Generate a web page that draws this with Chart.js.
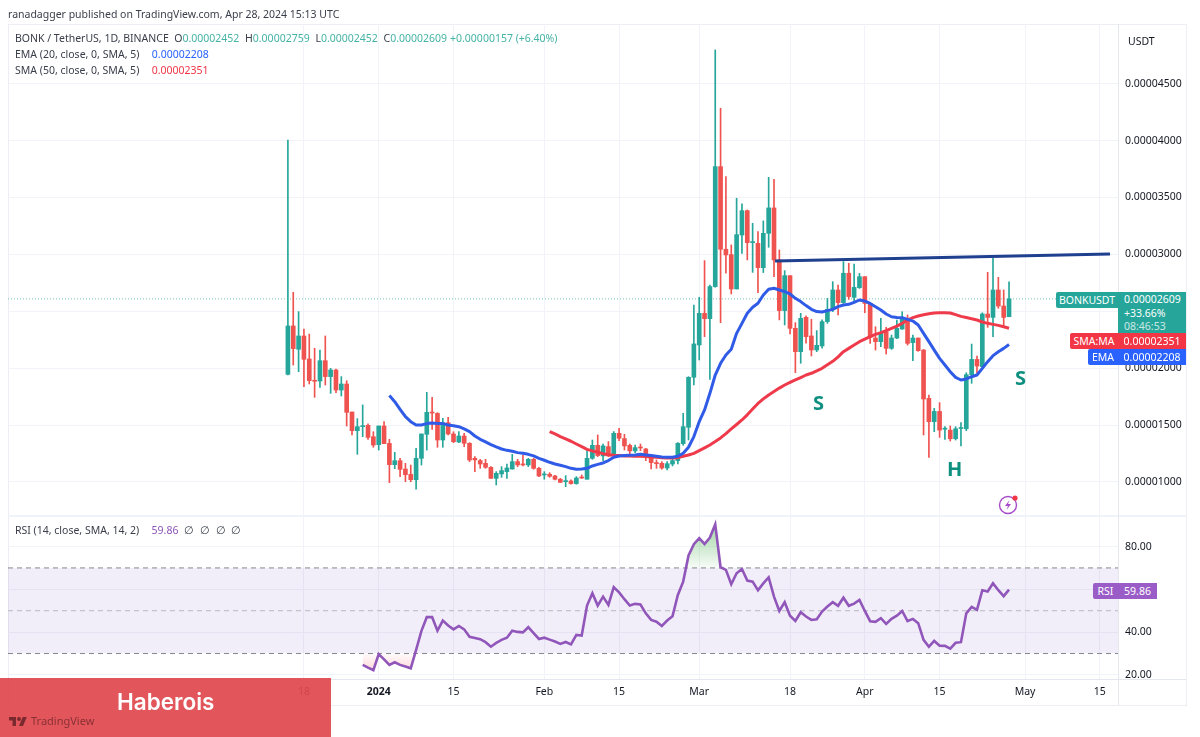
<!DOCTYPE html>
<html>
<head>
<meta charset="utf-8">
<title>BONK / TetherUS</title>
<script src="https://cdn.jsdelivr.net/npm/chart.js@4/dist/chart.umd.min.js"></script>
<style>
  html, body { margin: 0; padding: 0; background: #fff; }
  body { position: relative; width: 1200px; height: 737px; overflow: hidden; font-family: "Noto Sans", sans-serif; color: #131722; }
  canvas { position: absolute; left: 0; }
  .abs { position: absolute; white-space: nowrap; }
  .line { font-size: 10.5px; line-height: 16px; color: #3a3e4a; }
  .line span { margin-right: 3px; }
  .line .val { margin-left: 7px; }
  .tag { color: #fff; font-size: 10.5px; line-height: 16px; text-align: center; }
  .mark { color: #0f8f7f; font: bold 20px "Noto Sans", sans-serif; }
</style>
</head>
<body>
<!-- pane frame -->
<div class="abs" style="left:8px;top:24px;width:1177px;height:680px;border:1px solid #eceef3"></div>
<div class="abs" style="left:8px;top:515px;width:1178px;height:2px;background:#f0f3fa"></div>
<div class="abs" style="left:8px;top:679px;width:1178px;height:1px;background:#e4e7ee"></div>
<div class="abs" style="left:1118px;top:24px;width:1px;height:681px;background:#e4e7ee"></div>

<canvas id="price-chart" width="1200" height="517" style="top:0"></canvas>
<canvas id="rsi-chart" width="1200" height="220" style="top:517px"></canvas>

<div class="abs" style="left:8px;top:6px;font-size:10.5px;line-height:16px;color:#3a3e4a">ranadagger published on TradingView.com, Apr 28, 2024 15:13 UTC</div>

<div class="abs line" style="left:15px;top:30px">BONK / TetherUS, 1D, BINANCE&nbsp; O<span style="color:#45b3a5">0.00002452</span> H<span style="color:#45b3a5">0.00002759</span> L<span style="color:#45b3a5">0.00002452</span> C<span style="color:#45b3a5">0.00002609</span><span style="color:#45b3a5">+0.00000157 (+6.40%)</span></div>
<div class="abs line" style="left:15px;top:46px">EMA (20, close, 0, SMA, 5)&nbsp; <span class="val" style="color:#2962ff">0.00002208</span></div>
<div class="abs line" style="left:15px;top:62px">SMA (50, close, 0, SMA, 5)&nbsp; <span class="val" style="color:#f23645">0.00002351</span></div>
<div class="abs line" style="left:15px;top:522px">RSI (14, close, SMA, 14, 2)&nbsp; <span class="val" style="color:#8e55b8">59.86</span> <span>∅</span> <span>∅</span> <span>∅</span> <span>∅</span></div>

<div class="abs" style="left:1128px;top:33px;font-size:10.5px;line-height:16px">USDT</div>

<!-- last value tags -->
<div class="abs tag" style="left:1056px;top:292px;width:62px;height:16px;background:#26a69a;border-radius:2px 0 0 2px">BONKUSDT</div>
<div class="abs tag" style="left:1118px;top:292px;width:68px;height:41px;background:#26a69a;line-height:13.5px;padding-top:1px;box-sizing:border-box;text-align:left;padding-left:6px">0.00002609<br>+33.66%<br><span style="opacity:.75">08:46:53</span></div>
<div class="abs tag" style="left:1070px;top:333px;width:48px;height:16px;background:#f23645;border-radius:2px 0 0 2px">SMA:MA</div>
<div class="abs tag" style="left:1118px;top:333px;width:68px;height:16px;background:#f23645">0.00002351</div>
<div class="abs tag" style="left:1088px;top:349px;width:30px;height:16px;background:#2962ff;border-radius:2px 0 0 2px">EMA</div>
<div class="abs tag" style="left:1118px;top:349px;width:68px;height:16px;background:#2962ff">0.00002208</div>
<div class="abs tag" style="left:1093px;top:583px;width:25px;height:16px;background:#9a5cc6;border-radius:2px 0 0 2px">RSI</div>
<div class="abs tag" style="left:1118px;top:583px;width:39px;height:16px;background:#9a5cc6">59.86</div>

<!-- head and shoulders notes -->
<div class="abs mark" style="left:813px;top:389px">S</div>
<div class="abs mark" style="left:947px;top:455px">H</div>
<div class="abs mark" style="left:1015px;top:364px">S</div>

<svg class="abs" style="left:998px;top:494px" width="22" height="22" viewBox="0 0 22 22">
  <circle cx="10" cy="11" r="8.5" fill="none" stroke="#a64bc8" stroke-width="1.4"/>
  <path d="M11.5 6 L7 12 H10 L8.5 16 L13 10 H10 Z" fill="#a64bc8"/>
  <circle cx="17" cy="4" r="2.6" fill="#f23645"/>
</svg>

<!-- red banner -->
<div class="abs" style="left:0;top:678px;width:331px;height:59px;background:rgba(224,72,78,.93)"></div>
<div class="abs" style="left:117px;top:688px;color:#fff;font:600 22.5px Inter, sans-serif">Haberois</div>
<svg class="abs" style="left:9px;top:715px" width="18" height="14" viewBox="0 0 36 28"><path fill="#7a2a2f" d="M14 22H7V11H0V4h14v18zM28 22h-8l7.5-18h8L28 22z"/><circle fill="#7a2a2f" cx="20" cy="8" r="4"/></svg>
<div class="abs" style="left:31px;top:712px;color:#8a3135;font-size:11px;line-height:18px">TradingView</div>

<script>
// prices are in units of 0.00000001, one entry per day starting Dec 15 2023
const opens = [
  1946,2371,2166,2283,2081,1890,1887,2066,1926,1984,
  1808,1861,1615,1451,1486,1498,1398,1328,1492,1339,
  1152,1187,1114,1067,1020,1208,1419,1612,1603,1369,
  1521,1422,1351,1404,1340,1208,1188,1164,1129,1032,
  1071,1091,1114,1179,1155,1150,1199,1120,1062,1068,
  1053,1024,1003,1009,986,1041,1024,1208,1322,1229,
  1311,1237,1428,1381,1322,1273,1305,1290,1223,1170,
  1164,1123,1158,1188,1337,1481,1920,2204,2482,2435,
  2717,3771,3045,2998,2696,3170,3384,3103,3097,2883,
  3185,3408,2951,2506,2813,2350,2145,2447,2283,2160,
  2195,2409,2517,2687,2576,2834,2622,2707,2804,2569,
  2265,2233,2321,2174,2265,2344,2438,2224,2265,2159,
  1735,1530,1620,1464,1456,1380,1470,1468,1943,2077,
  2013,2476,2446,2687,2546,2452
];
const highs = [
  4005,2667,2497,2344,2300,2175,2160,2283,1999,1993,
  1926,1890,1615,1557,1677,1510,1442,1492,1530,1375,
  1261,1208,1164,1149,1296,1422,1788,1744,1609,1559,
  1568,1442,1442,1428,1346,1223,1199,1199,1135,1091,
  1135,1158,1243,1199,1237,1208,1208,1129,1091,1082,
  1059,1032,1056,1018,1047,1062,1276,1369,1413,1334,
  1355,1443,1472,1419,1334,1325,1334,1296,1237,1194,
  1179,1179,1199,1346,1604,1925,2555,2623,2945,2731,
  4796,4284,3683,3083,3493,3443,3390,3273,3200,3294,
  3677,3660,3039,2857,2813,2400,2482,2459,2430,2330,
  2424,2614,2760,2731,2936,2922,2915,2833,2804,2569,
  2364,2438,2359,2291,2423,2496,2467,2291,2265,2165,
  1764,1647,1697,1486,1492,1486,1521,1960,2212,2107,
  2487,2842,2965,2798,2687,2759
];
const lows = [
  1940,2028,1969,1838,1861,1744,1832,1852,1779,1785,
  1756,1492,1413,1243,1398,1375,1305,1281,1337,994,
  1117,1047,1003,1003,936,1149,1281,1463,1305,1305,
  1413,1346,1346,1310,1179,1091,1120,1120,1032,974,
  1041,1032,1112,1135,1141,1135,1112,1047,1024,1041,
  1018,994,959,980,980,1030,1024,1199,1223,1188,
  1223,1237,1363,1281,1237,1258,1276,1188,1114,1120,
  1112,1106,1141,1158,1322,1369,1852,2072,2277,1902,
  2711,2400,2834,2652,2696,3009,2951,2842,2664,2840,
  3062,2804,2424,2380,2301,1961,2043,2219,2107,2145,
  2175,2394,2497,2468,2570,2605,2584,2701,2487,2218,
  2159,2189,2124,2165,2259,2341,2203,2066,2148,1413,
  1216,1442,1392,1374,1360,1369,1316,1451,1867,1960,
  2013,2359,2277,2526,2364,2452
];
const closes = [
  2371,2172,2283,2078,1890,1885,2066,1926,1984,1808,
  1861,1612,1451,1486,1490,1392,1325,1492,1337,1152,
  1187,1111,1064,1020,1208,1422,1612,1606,1369,1521,
  1422,1354,1404,1340,1193,1194,1158,1129,1032,1076,
  1100,1123,1179,1150,1150,1199,1120,1053,1068,1050,
  1024,997,1009,986,1035,1035,1208,1322,1232,1317,
  1229,1428,1384,1317,1273,1302,1299,1217,1170,1161,
  1123,1161,1188,1340,1486,1920,2213,2482,2435,2717,
  3771,3045,2995,2696,3173,3384,3103,3108,2883,3185,
  3408,2951,2506,2813,2350,2145,2438,2277,2160,2201,
  2409,2517,2687,2576,2834,2629,2710,2804,2569,2271,
  2233,2315,2174,2265,2350,2446,2218,2265,2154,1729,
  1530,1620,1456,1470,1380,1468,1473,1943,2077,2019,
  2476,2446,2687,2546,2446,2609
];

const emaStart = 19;
const emaValues = [
  1759,1706,1639,1574,1530,1501,1501,1513,1518,1513,1513,1501,1495,1486,1466,1443,
  1404,1375,1352,1328,1308,1290,1278,1270,1258,1252,1243,1229,1208,1191,1173,1158,
  1147,1135,1120,1112,1114,1120,1141,1155,1167,1188,1217,1229,1232,1235,1237,1243,
  1237,1232,1226,1220,1217,1217,1226,1252,1305,1399,1530,1633,1779,1940,2043,2116,
  2166,2306,2394,2482,2535,2570,2643,2693,2702,2687,2673,2652,2614,2585,2550,2517,
  2497,2494,2506,2517,2541,2555,2561,2578,2599,2590,2569,2540,2511,2476,2452,2446,
  2444,2429,2414,2379,2306,2233,2159,2086,2028,1969,1919,1896,1905,1925,1940,1998,
  2057,2110,2145,2174,2208
];

const smaStart = 49;
const smaValues = [
  1443,1422,1399,1378,1358,1334,1311,1287,1273,1261,1249,1240,1235,1232,1229,1229,
  1226,1226,1223,1220,1217,1214,1211,1211,1214,1226,1237,1252,1276,1300,1325,1355,
  1387,1425,1466,1505,1545,1590,1641,1690,1730,1765,1795,1825,1852,1875,1897,1918,
  1940,1955,1977,1999,2030,2060,2100,2145,2174,2203,2233,2256,2277,2297,2312,2329,
  2350,2370,2394,2423,2444,2458,2470,2479,2485,2487,2487,2485,2470,2455,2446,2435,
  2423,2406,2394,2385,2376,2364,2351
];

const rsiStart = 14;
const rsiValues = [
  24.7,23.4,22.2,29.7,27.3,24.7,25.9,24.7,23.9,23.1,31.7,40.6,47.0,47.0,40.7,45.4,
  43.1,41.3,42.9,41.3,37.8,37.3,36.7,35.3,33.2,35.0,36.4,37.4,40.7,40.1,39.9,42.3,
  39.5,36.8,37.4,36.5,35.6,34.5,35.4,34.3,38.7,38.4,52.4,58.2,52.4,56.6,52.7,61.0,
  58.6,55.4,52.4,53.2,52.9,48.8,45.7,44.9,42.9,45.4,47.4,57.4,63.6,75.8,81.1,83.9,
  81.2,84.2,90.4,70.3,69.1,62.4,67.5,69.5,64.1,63.6,59.6,62.8,65.6,56.6,49.9,54.0,
  47.7,45.2,49.3,47.3,45.7,46.0,49.6,52.0,54.0,52.3,56.1,52.3,53.3,55.0,49.9,45.1,
  44.8,46.5,43.8,46.2,47.7,49.9,45.2,46.2,44.2,36.4,33.2,35.9,33.7,33.6,32.3,35.0,
  35.3,48.8,51.8,50.4,59.6,59.0,62.8,59.6,56.8,59.86
];
const rsiLevels = [70, 50, 30];

const trendDays = [91.2, 153.9];
const trendPrices = [2942, 3003];
const lastClose = 2609;

const priceTicks = [1000, 1500, 2000, 2500, 3000, 3500, 4000, 4500];
const rsiTicks = [20, 40, 60, 80];
const timeTickDays = [3, 17, 31, 48, 62, 77, 94, 108, 122, 138, 152];
const timeTickLabels = ['18', '2024', '15', 'Feb', '15', 'Mar', '18', 'Apr', '15', 'May', '15'];

const UP = '#26a69a';
const DOWN = '#ef5350';
const GRID = '#f1f3f8';
const FONT = '"Noto Sans", sans-serif';
const DAY_MIN = -52.4;
const DAY_MAX = 155.4;

const candleColors = closes.map((c, i) => (c >= opens[i] ? UP : DOWN));
const series = (start, values) => values.map((v, i) => ({ x: start + i, y: v }));
const flatLine = (v) => [{ x: DAY_MIN, y: v }, { x: DAY_MAX, y: v }];

// tick labels must not push the plot area in, the panes are fixed
const fixPadding = (axis) => {
  axis.paddingTop = 0;
  axis.paddingBottom = 0;
  axis.paddingLeft = 0;
  axis.paddingRight = 0;
};

const xAxis = (showLabels) => ({
  type: 'linear',
  min: DAY_MIN,
  max: DAY_MAX,
  offset: false,
  grid: { color: GRID, offset: false, drawTicks: false },
  border: { display: false },
  afterBuildTicks: (axis) => { axis.ticks = timeTickDays.map((value) => ({ value })); },
  afterFit: (axis) => { axis.height = showLabels ? 26 : 0; fixPadding(axis); },
  ticks: {
    display: showLabels,
    autoSkip: false,
    maxRotation: 0,
    padding: 7,
    color: '#131722',
    font: (ctx) => ({ family: FONT, size: 10.5, weight: ctx.tick && ctx.tick.value === 17 ? 'bold' : 'normal' }),
    callback: (value) => timeTickLabels[timeTickDays.indexOf(value)]
  }
});

new Chart(document.getElementById('price-chart'), {
  type: 'bar',
  data: {
    datasets: [
      {
        type: 'line',
        data: [{ x: trendDays[0], y: trendPrices[0] }, { x: trendDays[1], y: trendPrices[1] }],
        borderColor: '#1f3f8f',
        borderWidth: 3,
        pointRadius: 0,
        order: 1
      },
      {
        type: 'line',
        data: series(emaStart, emaValues),
        borderColor: '#2f5be7',
        borderWidth: 3,
        pointRadius: 0,
        borderJoinStyle: 'round',
        order: 2
      },
      {
        type: 'line',
        data: series(smaStart, smaValues),
        borderColor: '#ee3a4a',
        borderWidth: 3,
        pointRadius: 0,
        borderJoinStyle: 'round',
        order: 3
      },
      {
        // candle bodies
        data: opens.map((o, i) => ({ x: i, y: [o, closes[i]] })),
        backgroundColor: candleColors,
        barThickness: 4,
        minBarLength: 1,
        grouped: false,
        order: 4
      },
      {
        // wicks
        data: highs.map((h, i) => ({ x: i, y: [lows[i], h] })),
        backgroundColor: candleColors,
        barThickness: 1,
        grouped: false,
        order: 5
      },
      {
        type: 'line',
        data: flatLine(lastClose),
        borderColor: '#7cc4bb',
        borderWidth: 1,
        borderDash: [1, 2],
        pointRadius: 0,
        order: 6
      }
    ]
  },
  options: {
    responsive: false,
    animation: false,
    devicePixelRatio: 1,
    layout: { padding: { left: 8, top: 24, right: 15, bottom: 2 } },
    plugins: { legend: { display: false }, tooltip: { enabled: false } },
    scales: {
      x: xAxis(false),
      y: {
        position: 'right',
        min: 710,
        max: 5024,
        grid: { color: GRID, drawTicks: false },
        border: { display: false },
        afterBuildTicks: (axis) => { axis.ticks = priceTicks.map((value) => ({ value })); },
        afterFit: (axis) => { axis.width = 67; fixPadding(axis); },
        ticks: {
          padding: 7,
          color: '#131722',
          font: { family: FONT, size: 10.5 },
          callback: (v) => (v / 1e8).toFixed(8)
        }
      }
    }
  }
});

const rsiCanvas = document.getElementById('rsi-chart');
const rsiCtx = rsiCanvas.getContext('2d');
const overboughtFill = rsiCtx.createLinearGradient(0, 5, 0, 52);
overboughtFill.addColorStop(0, 'rgba(76,175,80,0.55)');
overboughtFill.addColorStop(1, 'rgba(76,175,80,0.03)');
const oversoldFill = rsiCtx.createLinearGradient(0, 137, 0, 160);
oversoldFill.addColorStop(0, 'rgba(255,82,82,0.03)');
oversoldFill.addColorStop(1, 'rgba(255,82,82,0.3)');

new Chart(rsiCanvas, {
  type: 'line',
  data: {
    datasets: [
      {
        data: series(rsiStart, rsiValues),
        borderColor: '#9156ba',
        borderWidth: 2.6,
        pointRadius: 0,
        fill: false,
        order: 1
      },
      {
        data: series(rsiStart, rsiValues),
        borderWidth: 0,
        pointRadius: 0,
        fill: { target: { value: rsiLevels[0] }, above: overboughtFill, below: 'transparent' },
        order: 2
      },
      {
        data: series(rsiStart, rsiValues),
        borderWidth: 0,
        pointRadius: 0,
        fill: { target: { value: rsiLevels[2] }, above: 'transparent', below: oversoldFill },
        order: 3
      },
      {
        data: flatLine(rsiLevels[1]),
        borderColor: '#b6b8c0',
        borderWidth: 1,
        borderDash: [5, 4],
        pointRadius: 0,
        order: 4
      },
      {
        data: flatLine(rsiLevels[2]),
        borderColor: '#85878f',
        borderWidth: 1,
        borderDash: [5, 4],
        pointRadius: 0,
        order: 5
      },
      {
        // band between 70 and 30
        data: flatLine(rsiLevels[0]),
        borderColor: '#85878f',
        borderWidth: 1,
        borderDash: [5, 4],
        pointRadius: 0,
        fill: { target: { value: rsiLevels[2] }, above: 'rgba(126,87,194,0.1)', below: 'transparent' },
        order: 6
      }
    ]
  },
  options: {
    responsive: false,
    animation: false,
    devicePixelRatio: 1,
    layout: { padding: { left: 8, top: 0, right: 15, bottom: 32 } },
    plugins: { legend: { display: false }, tooltip: { enabled: false } },
    scales: {
      x: xAxis(true),
      y: {
        position: 'right',
        min: 18.1,
        max: 93.8,
        grid: { color: GRID, drawTicks: false },
        border: { display: false },
        afterBuildTicks: (axis) => { axis.ticks = rsiTicks.map((value) => ({ value })); },
        afterFit: (axis) => { axis.width = 67; fixPadding(axis); },
        ticks: {
          padding: 7,
          color: '#131722',
          font: { family: FONT, size: 10.5 },
          callback: (v) => v.toFixed(2)
        }
      }
    }
  }
});
</script>
</body>
</html>
